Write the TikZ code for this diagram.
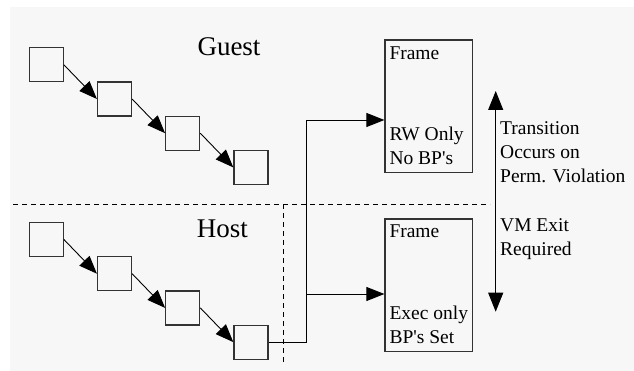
\documentclass[tikz,border=0pt]{standalone}
\usepackage{fontspec}
\setmainfont{Liberation Serif}
\usepackage{xcolor}
\usetikzlibrary{arrows.meta, positioning}
\definecolor{pagegrey}{RGB}{247,247,247}
\tikzset{
	pagebox/.style={draw=black!80, line width=1.2pt, minimum size=34pt, inner sep=0pt}
}
\tikzset{
	framebox/.style={draw=black!80, line width=1.2pt, minimum width=87.7pt, minimum height=132.7pt, inner sep=0pt}
}
\tikzset{
	link/.style={line width=0.9pt, -{Triangle[length=18pt,width=14pt]}}
}
\tikzset{
	divider/.style={line width=0.9pt, dash pattern=on 5pt off 4pt}
}
\tikzset{
	smalltext/.style={font=\fontsize{19.5}{24}\selectfont, align=left, inner sep=0pt},
	bigtext/.style={font=\fontsize{27}{30}\selectfont, inner sep=0pt}
}

\begin{document}
\begin{tikzpicture}[x=1pt, y=-1pt]

		% page area
		\useasboundingbox (0,0) rectangle (634,371);
		\fill[pagegrey] (10,7) rectangle (634,371);

		% origin of the first page of each chain
		\newcommand{\xpage}{46.3}
		\newcommand{\yguest}{64.8}
		\newcommand{\yhost}{239.5}
		\newcommand{\dxpage}{68.2}
		\newcommand{\dypage}{34.2}

		% guest and host page chains
		\foreach \i in {1,...,4} {
			\node[pagebox] (g\i) at ({\xpage + (\i-1)*\dxpage}, {\yguest + (\i-1)*\dypage}) {};
			\node[pagebox] (h\i) at ({\xpage + (\i-1)*\dxpage}, {\yhost + (\i-1)*\dypage}) {};
		}
		\foreach \i/\j in {1/2, 2/3, 3/4} {
			\draw[link] (g\i.east) -- (g\j.west);
			\draw[link] (h\i.east) -- (h\j.west);
		}

		% labels
		\node[bigtext, anchor=base] (guest) at (229,56) {Guest};
		\node[bigtext, anchor=base] (host) at (222.5,237.3) {Host};

		% divider between guest and host
		\draw[divider] (13,204) -- (490,204);
		\draw[divider] (283.3,204) -- (283.3,362);

		% frames (base anchor sits on the last line)
		\node[framebox] (f1) at (428.85,106.35) {};
		\node[framebox] (f2) at (428.85,285.35) {};
		\node[smalltext, anchor=base west] (f1top) at (389.3,59.3) {Frame};
		\node[smalltext, anchor=base west] (f1bot) at (389.3,165) {RW Only\\No BP\textquotesingle s};
		\node[smalltext, anchor=base west] (f2top) at (389.3,237.7) {Frame};
		\node[smalltext, anchor=base west] (f2bot) at (389.3,343.3) {Exec only\\BP\textquotesingle s Set};

		% host page to both frames
		\coordinate (up) at (306,120);
		\coordinate (dn) at (306,294);
		\draw[line width=0.9pt] (h4.east) -| (up);
		\draw[link] (up) -- (up -| f1.west);
		\draw[link] (dn) -- (dn -| f2.west);

		% transition
		\coordinate (ttop) at (495.7,91);
		\coordinate (tbot) at (495.7,311.7);
		\draw[line width=0.9pt, {Triangle[length=19pt,width=15pt]}-{Triangle[length=19pt,width=15pt]}] (ttop) -- (tbot);
		\node[smalltext, anchor=base west] (perm) at (500,183) {Transition\\Occurs on\\Perm. Violation};
		\node[smalltext, anchor=base west] (vmexit) at (500,255) {VM Exit\\Required};

	\end{tikzpicture}
\end{document}
